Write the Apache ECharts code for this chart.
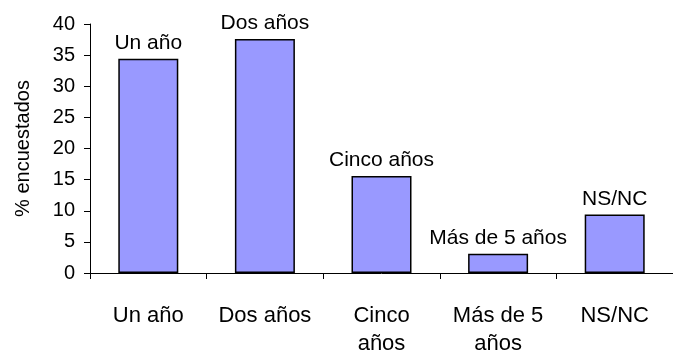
<!DOCTYPE html>
<html><head><meta charset="utf-8">
<script src="https://cdn.jsdelivr.net/npm/echarts@6/dist/echarts.min.js"></script>
<style>html,body{margin:0;padding:0;background:#fff}#c{width:673px;height:358px}</style>
</head><body><div id="c"></div>
<script>
const categories = ['Un año', 'Dos años', 'Cinco\naños', 'Más de 5\naños', 'NS/NC'];
const barLabels = ['Un año', 'Dos años', 'Cinco años', 'Más de 5 años', 'NS/NC'];
const values = [34.4, 37.6, 15.6, 3.1, 9.4];
const yTicks = { min: 0, max: 40, interval: 5 };
const font = '"Liberation Sans", Arial, sans-serif';
const chart = echarts.init(document.getElementById('c'));
chart.setOption({
  animation: false,
  grid: { left: 90, top: 24, bottom: 79, right: -4.5, containLabel: false },
  xAxis: {
    type: 'category', data: categories,
    axisLine: { lineStyle: { color: '#000', width: 1 } },
    axisTick: { show: true, inside: false, length: 6, lineStyle: { color: '#000' } },
    axisLabel: { color: '#000', fontSize: 22, fontFamily: font, margin: 29, lineHeight: 28, interval: 0 },
    splitLine: { show: false }
  },
  yAxis: {
    type: 'value', min: yTicks.min, max: yTicks.max, interval: yTicks.interval,
    name: '% encuestados', nameLocation: 'middle', nameGap: 57, nameRotate: 90,
    nameTextStyle: { color: '#000', fontSize: 20, fontFamily: font },
    axisLine: { show: true, lineStyle: { color: '#000', width: 1 } },
    axisTick: { show: true, length: 6, lineStyle: { color: '#000' } },
    axisLabel: { color: '#000', fontSize: 20, fontFamily: font, margin: 15 },
    splitLine: { show: false }
  },
  series: [{
    type: 'bar', data: values, barWidth: 60,
    itemStyle: { color: '#9999ff', borderColor: '#000', borderWidth: 1.5 },
    label: {
      show: true, position: 'top', distance: 5, color: '#000', fontSize: 21, fontFamily: font,
      formatter: p => barLabels[p.dataIndex]
    }
  }]
});
</script></body></html>
